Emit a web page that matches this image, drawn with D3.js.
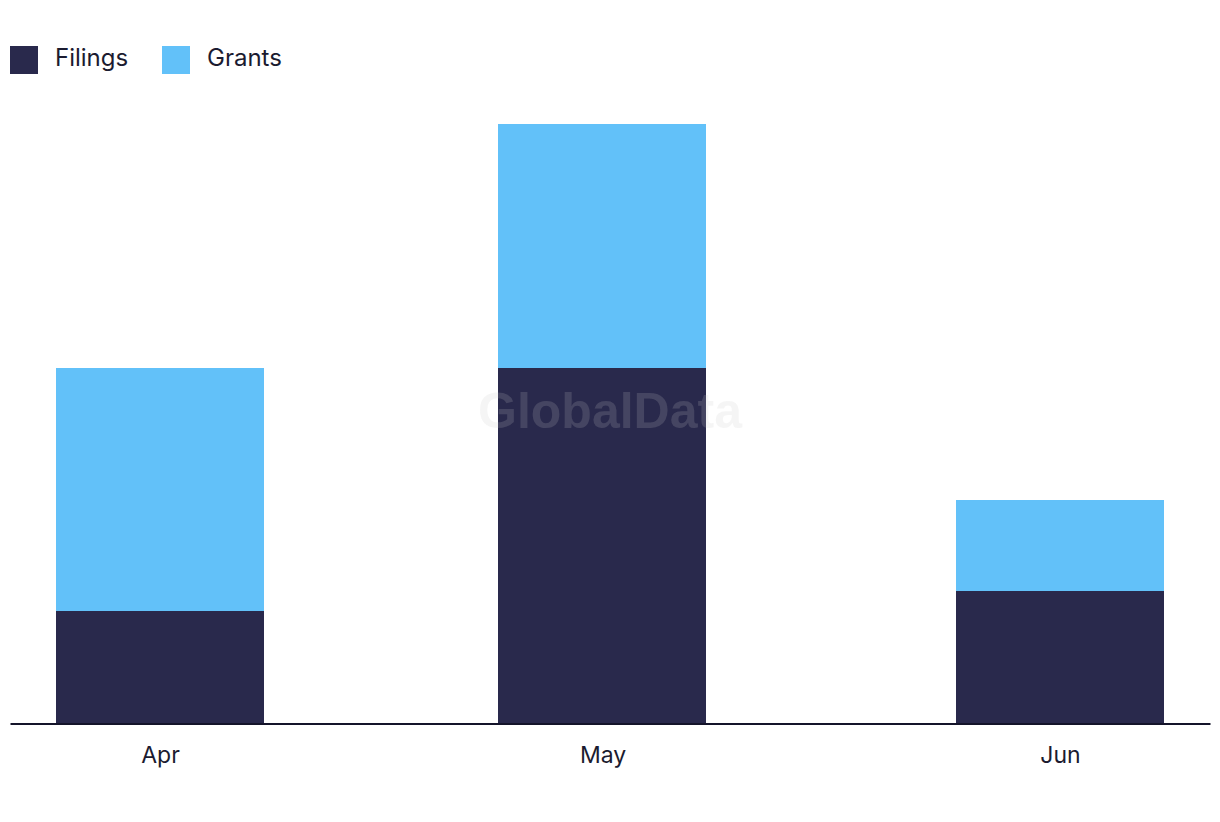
<!DOCTYPE html>
<html>
<head>
<meta charset="utf-8">
<script src="https://cdn.jsdelivr.net/npm/d3@7"></script>
<style>
body{margin:0;background:#fff;}
text{font-family:Inter,"Noto Sans",sans-serif;}
</style>
</head>
<body>
<div id="chart"></div>
<script>
// data
var months=["2023-04-01","2023-05-01","2023-06-01"]
var monthLabels=["Apr","May","Jun"]
var filings=[11,35,13]
var grants=[24,24,9]
var seriesNames=["Filings","Grants"]
var colors=["#29294c","#62c1f9"]

var width=1220, height=822
var svg=d3.select("#chart").append("svg").attr("width",width).attr("height",height)

var parse=d3.timeParse("%Y-%m-%d")
var dates=months.map(parse)
// pad the time axis about 10 days each side
var x=d3.scaleTime()
	.domain([d3.timeHour.offset(dates[0],-244),d3.timeHour.offset(dates[2],244)])
	.range([10,1210])
var y=d3.scaleLinear().domain([0,59]).range([723,124])
var barW=208

var rows=dates.map(function(d,i){return {date:d,Filings:filings[i],Grants:grants[i]}})
var stack=d3.stack().keys(seriesNames)(rows)

var layers=svg.append("g").selectAll("g")
	.data(stack)
	.enter().append("g")
		.attr("fill",function(d,i){return colors[i]})
layers.selectAll("rect")
	.data(function(d){return d})
	.enter().append("rect")
		.attr("x",function(d){return Math.floor(x(d.data.date)-barW/2)})
		.attr("width",barW)
		.attr("y",function(d){return Math.round(y(d[1]))})
		.attr("height",function(d){return Math.round(y(d[0]))-Math.round(y(d[1]))})

// watermark
svg.append("text")
	.attr("x",610).attr("y",428)
	.attr("text-anchor","middle")
	.style("font-family","'Liberation Sans',Arial,sans-serif")
	.style("font-weight","bold")
	.style("font-size","50px")
	.attr("fill","rgb(200,200,200)")
	.attr("fill-opacity",0.18)
	.text("GlobalData")

// x axis
var xAxis=d3.axisBottom(x).tickValues(dates).tickSize(0).tickPadding(23)
	.tickFormat(function(d,i){return monthLabels[i]})
var ax=svg.append("g").attr("transform","translate(0,723.5)").call(xAxis)
ax.select(".domain").attr("stroke","#14142a").attr("stroke-width",2)
ax.selectAll("text")
	.style("font-family","Inter,'Noto Sans',sans-serif")
	.style("font-size","23px")
	.attr("fill","#1b1b30")

// legend
var legend=svg.append("g").selectAll("g")
	.data(seriesNames)
	.enter().append("g")
		.attr("transform",function(d,i){return "translate("+(10+i*152)+",46)"})
legend.append("rect").attr("width",28).attr("height",28)
	.attr("fill",function(d,i){return colors[i]})
legend.append("text").attr("x",45).attr("y",12).attr("dy","0.35em")
	.style("font-size","24px").attr("fill","#1b1b30")
	.text(function(d){return d})
</script>
</body>
</html>
